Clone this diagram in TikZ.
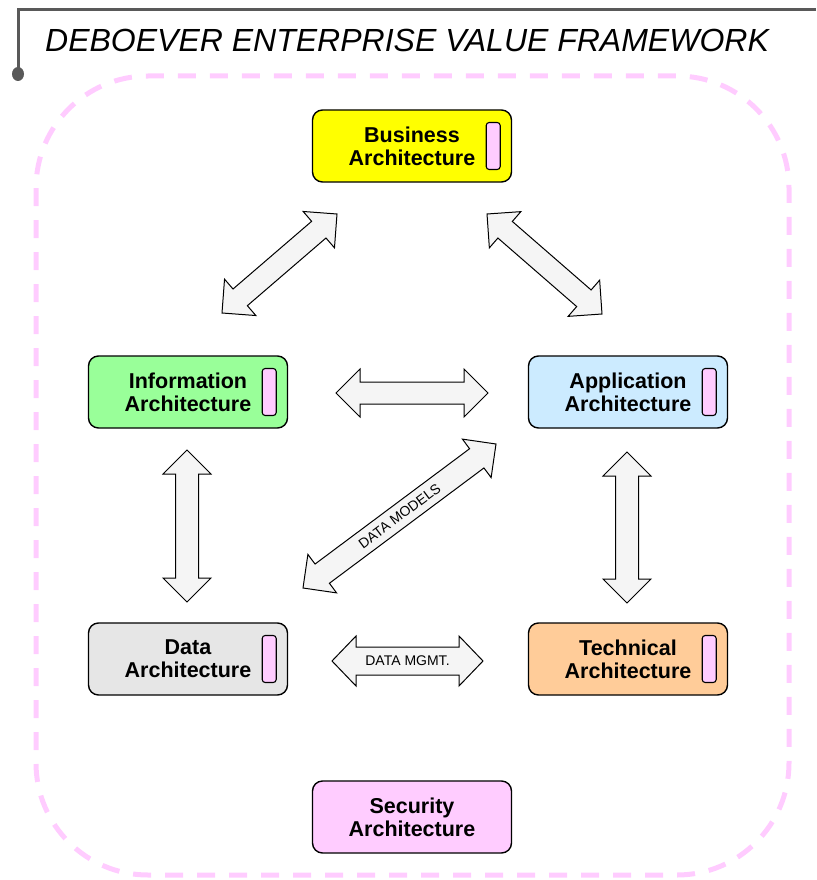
\documentclass[tikz,border=0pt]{standalone}
\usepackage{fontspec}
\setmainfont{Liberation Sans}
\usetikzlibrary{calc}
\definecolor{dashpink}{HTML}{FFCCFF}
\definecolor{tagpink}{HTML}{FFCCFF}
\definecolor{secpink}{HTML}{FFCCFF}
\definecolor{bizyellow}{HTML}{FFFF00}
\definecolor{infogreen}{HTML}{99FF99}
\definecolor{appblue}{HTML}{CCEBFF}
\definecolor{datagrey}{HTML}{E6E6E6}
\definecolor{techorange}{HTML}{FFCC99}
\definecolor{arrowgrey}{HTML}{F5F5F5}
\definecolor{titlegrey}{HTML}{595959}
% #1 start, #2 end, #3 half shaft width, #4 half head width, head length 24pt
\newcommand\blockarrow[4]{%
  \draw[arrowbody] (#1)
    -- ($(#1)!24pt!(#2)!#4!90:(#2)$)
    -- ($(#1)!24pt!(#2)!#3!90:(#2)$)
    -- ($(#2)!24pt!(#1)!#3!-90:(#1)$)
    -- ($(#2)!24pt!(#1)!#4!-90:(#1)$)
    -- (#2)
    -- ($(#2)!24pt!(#1)!#4!90:(#1)$)
    -- ($(#2)!24pt!(#1)!#3!90:(#1)$)
    -- ($(#1)!24pt!(#2)!#3!-90:(#2)$)
    -- ($(#1)!24pt!(#2)!#4!-90:(#2)$)
    -- cycle;}
\begin{document}
\begin{tikzpicture}[x=1pt,y=-1pt,
  archbox/.style={draw=black, line width=1.4pt, rounded corners=10pt,
    minimum width=199pt, minimum height=72pt, align=center,
    font=\fontsize{21.5}{23}\selectfont\bfseries, inner sep=0pt},
  tagbox/.style={draw=black, line width=1.1pt, fill=tagpink, rounded corners=3pt,
    minimum width=14pt, minimum height=47pt, inner sep=0pt},
  arrowbody/.style={draw=black, line width=1pt, fill=arrowgrey, line join=miter},
  lbl/.style={font=\fontsize{14}{16}\selectfont, inner sep=0pt}
]
\useasboundingbox (0,0) rectangle (816,880);

% title bar
\draw[titlegrey, line width=3pt] (816,10) -- (18,10) -- (18,72);
\fill[titlegrey] (18,74) ellipse (6pt and 7pt);
\node[anchor=base west, inner sep=0pt, font=\fontsize{32}{36}\selectfont\itshape] (title)
  at (45,52) {DEBOEVER ENTERPRISE VALUE FRAMEWORK};

% dashed frame
\draw[dashpink, line width=5pt, dash pattern=on 18pt off 14pt, rounded corners=112pt]
  (36,76) rectangle (789,875);

% architecture boxes
\node[archbox, fill=bizyellow] (biz) at (412,146) {Business\\Architecture};
\node[archbox, fill=infogreen] (info) at (188,392) {Information\\Architecture};
\node[archbox, fill=appblue] (app) at (628,392) {Application\\Architecture};
\node[archbox, fill=datagrey] (data) at (188,659) {Data\\Architecture};
\node[archbox, fill=techorange] (tech) at (628,659) {Technical\\Architecture};
\node[archbox, fill=secpink] (sec) at (412,817) {Security\\Architecture};

\foreach \n in {biz,info,app,data,tech}{
  \node[tagbox] (\n tag) at ($(\n.east)+(-19,0)$) {};
}

% arrow end points
\coordinate (biA) at (222,313);
\coordinate (biB) at (337,214);
\coordinate (baA) at (487,214);
\coordinate (baB) at (602,314);
\coordinate (iaA) at (336,393);
\coordinate (iaB) at (488,393);
\coordinate (idA) at (187,450);
\coordinate (idB) at (187,602);
\coordinate (atA) at (627,452);
\coordinate (atB) at (627,603);
\coordinate (dmA) at (303,588);
\coordinate (dmB) at (496,444);
\coordinate (dgA) at (332,661);
\coordinate (dgB) at (483,661);

\blockarrow{biA}{biB}{11pt}{24pt}
\blockarrow{baA}{baB}{11pt}{24pt}
\blockarrow{iaA}{iaB}{11pt}{24pt}
\blockarrow{idA}{idB}{11.5pt}{24pt}
\blockarrow{atA}{atB}{11.5pt}{24pt}
\blockarrow{dmA}{dmB}{12pt}{24pt}
\blockarrow{dgA}{dgB}{14pt}{25pt}

\path (dmA) -- node[lbl, sloped, midway] (dmlabel) {DATA MODELS} (dmB);
\path (dgA) -- node[lbl, midway] (dglabel) {DATA MGMT.} (dgB);
\end{tikzpicture}
\end{document}
